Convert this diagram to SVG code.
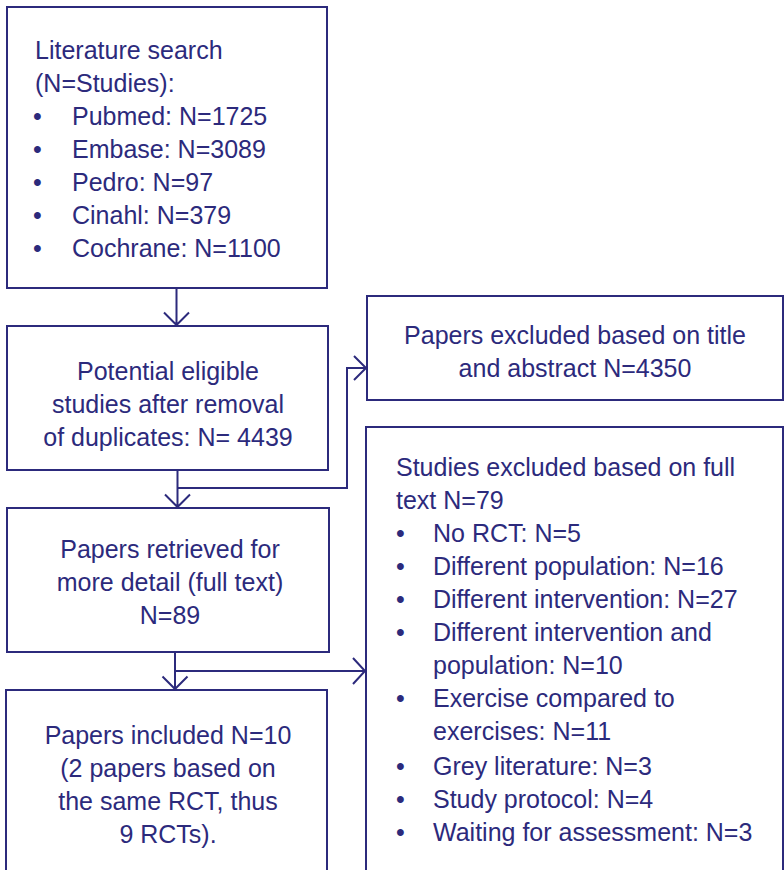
<svg xmlns="http://www.w3.org/2000/svg" width="784" height="870" viewBox="0 0 784 870">
<style>
.box{fill:#fff;stroke:#2c2a7c;stroke-width:2}
.t{font-family:"Liberation Sans",Arial,sans-serif;font-size:25px;fill:#2c2a7c}
.c{text-anchor:middle}
.ln{fill:none;stroke:#2c2a7c;stroke-width:2}
</style>
<rect width="784" height="870" fill="#fff"/>
<g id="search">
<rect class="box" x="7" y="7" width="320" height="281"/>
<text class="t" x="35" y="59">Literature search</text>
<text class="t" x="35" y="92">(N=Studies):</text>
<text class="t" x="33" y="125">•</text><text class="t" x="72" y="125">Pubmed: N=1725</text>
<text class="t" x="33" y="158">•</text><text class="t" x="72" y="158">Embase: N=3089</text>
<text class="t" x="33" y="191">•</text><text class="t" x="72" y="191">Pedro: N=97</text>
<text class="t" x="33" y="224">•</text><text class="t" x="72" y="224">Cinahl: N=379</text>
<text class="t" x="33" y="257">•</text><text class="t" x="72" y="257">Cochrane: N=1100</text>
</g>
<g id="eligible">
<rect class="box" x="7" y="326" width="321" height="144"/>
<text class="t c" x="168" y="380">Potential eligible</text>
<text class="t c" x="168" y="413">studies after removal</text>
<text class="t c" x="168" y="446">of duplicates: N= 4439</text>
</g>
<g id="excluded-title">
<rect class="box" x="367" y="296" width="416" height="104"/>
<text class="t c" x="575" y="344">Papers excluded based on title</text>
<text class="t c" x="575" y="377">and abstract N=4350</text>
</g>
<g id="retrieved">
<rect class="box" x="7" y="508" width="322" height="144"/>
<text class="t c" x="170" y="558">Papers retrieved for</text>
<text class="t c" x="170" y="591">more detail (full text)</text>
<text class="t c" x="170" y="624">N=89</text>
</g>
<g id="excluded-full">
<rect class="box" x="366" y="427" width="417" height="460"/>
<text class="t" x="396" y="476">Studies excluded based on full</text>
<text class="t" x="396" y="509">text N=79</text>
<text class="t" x="396" y="542">•</text><text class="t" x="433" y="542">No RCT: N=5</text>
<text class="t" x="396" y="575">•</text><text class="t" x="433" y="575">Different population: N=16</text>
<text class="t" x="396" y="608">•</text><text class="t" x="433" y="608">Different intervention: N=27</text>
<text class="t" x="396" y="641">•</text><text class="t" x="433" y="641">Different intervention and</text>
<text class="t" x="433" y="674">population: N=10</text>
<text class="t" x="396" y="707">•</text><text class="t" x="433" y="707">Exercise compared to</text>
<text class="t" x="433" y="740">exercises: N=11</text>
<text class="t" x="396" y="775">•</text><text class="t" x="433" y="775">Grey literature: N=3</text>
<text class="t" x="396" y="808">•</text><text class="t" x="433" y="808">Study protocol: N=4</text>
<text class="t" x="396" y="841">•</text><text class="t" x="433" y="841">Waiting for assessment: N=3</text>
</g>
<g id="included">
<rect class="box" x="6" y="690" width="321" height="200"/>
<text class="t c" x="168" y="744">Papers included N=10</text>
<text class="t c" x="168" y="777">(2 papers based on</text>
<text class="t c" x="168" y="810">the same RCT, thus</text>
<text class="t c" x="168" y="843">9 RCTs).</text>
</g>
<g id="connectors">
<path class="ln" d="M176.5 288V325M164 312.5L176.5 325L189 312.5"/>
<path class="ln" d="M177.5 470V507M165 494.5L177.5 507L190 494.5"/>
<path class="ln" d="M177.5 488H347V368H366M354 356L366 368L354 380"/>
<path class="ln" d="M175 652V689M162.5 676.5L175 689L187.5 676.5"/>
<path class="ln" d="M175 671H365M353 658L365 671L353 684"/>
</g>
</svg>
